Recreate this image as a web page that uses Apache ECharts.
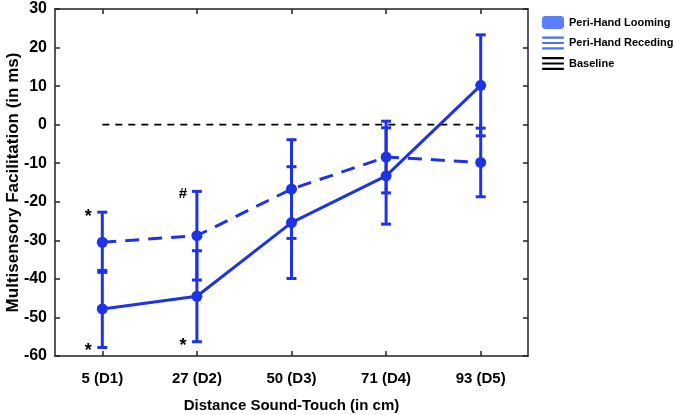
<!DOCTYPE html>
<html>
<head>
<meta charset="utf-8">
<script src="https://cdn.jsdelivr.net/npm/echarts@6/dist/echarts.min.js"></script>
<style>html,body{margin:0;padding:0;background:#fff}#c{width:675px;height:415px}</style>
</head>
<body>
<div id="c"></div>
<script>
var categories = ['5 (D1)', '27 (D2)', '50 (D3)', '71 (D4)', '93 (D5)'];
var yTicks = [-60, -50, -40, -30, -20, -10, 0, 10, 20, 30];
var loomingMean = [-47.8, -44.5, -25.4, -13.3, 10.2];
var loomingErr  = [10.0, 11.8, 14.5, 12.5, 13.1];
var recedingMean = [-30.5, -28.8, -16.7, -8.4, -9.8];
var recedingErr  = [7.8, 11.5, 12.8, 9.3, 8.9];
var baseline = [0, 0, 0, 0, 0];
// annotations: [category index, value, text, side]
var annotations = [
  [0, -22.7, '*', 'top'],
  [0, -57.8, '*', 'bottom'],
  [1, -17.3, '#', 'top'],
  [1, -56.3, '*', 'bottom']
];

var BLUE = '#1f33e6';
var FONT = 'Liberation Sans';

function errData(mean, err) {
  return mean.map(function (m, i) { return [i, m - err[i], m + err[i]]; });
}
function errRender(params, api) {
  var lo = api.coord([api.value(0), api.value(1)]);
  var hi = api.coord([api.value(0), api.value(2)]);
  var w = 5;
  var st = { stroke: BLUE, lineWidth: 3 };
  return { type: 'group', children: [
    { type: 'line', shape: { x1: lo[0], y1: lo[1], x2: hi[0], y2: hi[1] }, style: st },
    { type: 'line', shape: { x1: lo[0] - w, y1: lo[1], x2: lo[0] + w, y2: lo[1] }, style: st },
    { type: 'line', shape: { x1: hi[0] - w, y1: hi[1], x2: hi[0] + w, y2: hi[1] }, style: st }
  ]};
}
function annRender(params, api) {
  var p = api.coord([api.value(0), api.value(1)]);
  var txt = annotations[params.dataIndex][2];
  var side = annotations[params.dataIndex][3];
  var dy = txt === '#' ? 10 : (side === 'top' ? 5 : 4);
  return { type: 'text', x: p[0] - 14, y: p[1] + dy,
    style: { text: txt, fill: '#000', font: 'bold ' + (txt === '*' ? 18 : 15) + 'px ' + FONT,
      align: 'center', verticalAlign: txt === '*' ? 'middle' : 'bottom' } };
}

var axisLine = { show: true, onZero: false, lineStyle: { color: '#222', width: 1.5 } };
var tick = { show: true, inside: true, length: 5, lineStyle: { color: '#222', width: 1.5 } };
var chart = echarts.init(document.getElementById('c'));
chart.setOption({
  animation: false,
  grid: { left: 55, right: 147, top: 9, bottom: 59, containLabel: false, outerBoundsMode: 'none' },
  legend: {
    orient: 'vertical', left: 537, top: 11, itemWidth: 22, itemHeight: 13, itemGap: 7.5,
    textStyle: { fontFamily: FONT, fontWeight: 'bold', fontSize: 11, color: '#000' },
    data: [
      { name: 'Peri-Hand Looming', icon: 'roundRect', itemStyle: { color: '#5a7ff6' } },
      { name: 'Peri-Hand Receding', icon: 'path://M0,0H20V2H0ZM0,5H20V7H0ZM0,10H20V12H0Z', itemStyle: { color: '#4a6ff0' } },
      { name: 'Baseline', icon: 'path://M0,0H20V2H0ZM0,5H20V7H0ZM0,10H20V12H0Z', itemStyle: { color: '#000' } }
    ]
  },
  xAxis: [{
    type: 'category', data: categories, boundaryGap: true, position: 'bottom',
    axisLine: axisLine,
    axisTick: Object.assign({ alignWithLabel: true }, tick),
    axisLabel: { fontFamily: FONT, fontWeight: 'bold', fontSize: 15, color: '#000', margin: 15 },
    name: 'Distance Sound-Touch (in cm)', nameLocation: 'middle', nameGap: 42, nameMoveOverlap: false,
    nameTextStyle: { fontFamily: FONT, fontWeight: 'bold', fontSize: 15, color: '#000' }
  }, {
    type: 'category', data: categories, boundaryGap: true, position: 'top',
    axisLine: axisLine,
    axisTick: Object.assign({ alignWithLabel: true }, tick),
    axisLabel: { show: false }
  }],
  yAxis: [{
    type: 'value', min: yTicks[0], max: yTicks[yTicks.length - 1], interval: 10, position: 'left',
    axisLine: axisLine, axisTick: tick,
    splitLine: { show: false },
    axisLabel: { fontFamily: FONT, fontWeight: 'bold', fontSize: 16, color: '#000', margin: 8 },
    name: 'Multisensory Facilitation (in ms)', nameLocation: 'middle', nameGap: 33, nameMoveOverlap: false,
    nameTextStyle: { fontFamily: FONT, fontWeight: 'bold', fontSize: 17, color: '#000' }
  }, {
    type: 'value', min: yTicks[0], max: yTicks[yTicks.length - 1], interval: 10, position: 'right',
    axisLine: axisLine, axisTick: tick,
    splitLine: { show: false }, axisLabel: { show: false }
  }],
  series: [
    { name: 'Baseline', type: 'line', data: baseline, symbol: 'none', z: 1,
      lineStyle: { color: '#000', width: 1.8, type: [7, 6] }, itemStyle: { color: '#000' } },
    { name: 'Peri-Hand Receding', type: 'line', data: recedingMean, symbol: 'circle', symbolSize: 11,
      lineStyle: { color: BLUE, width: 3, type: [14, 9] }, itemStyle: { color: BLUE }, z: 3 },
    { name: 'Peri-Hand Looming', type: 'line', data: loomingMean, symbol: 'circle', symbolSize: 11,
      lineStyle: { color: BLUE, width: 3 }, itemStyle: { color: BLUE }, z: 3 },
    { type: 'custom', data: errData(recedingMean, recedingErr), renderItem: errRender, z: 4 },
    { type: 'custom', data: errData(loomingMean, loomingErr), renderItem: errRender, z: 4 },
    { type: 'custom', data: annotations.map(function (a) { return [a[0], a[1]]; }), renderItem: annRender, z: 5 }
  ]
});
</script>
</body>
</html>
